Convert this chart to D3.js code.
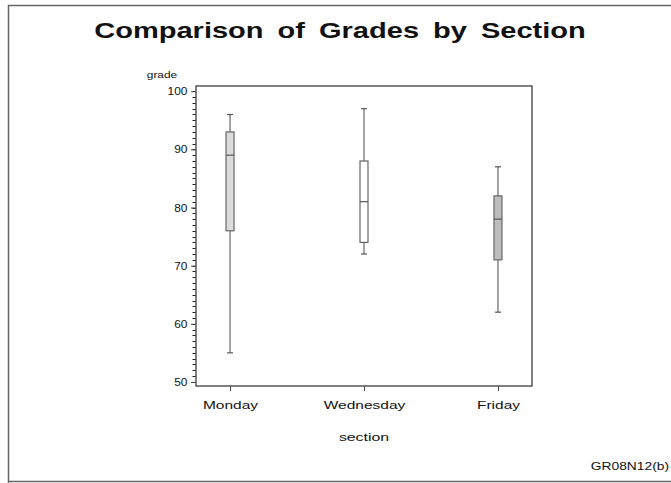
<!DOCTYPE html>
<html>
<head>
<meta charset="utf-8">
<script src="https://cdn.jsdelivr.net/npm/d3@7"></script>
<style>
  body { margin: 0; background: #fff; }
  text { font-family: Arial, "Liberation Sans", sans-serif; fill: #111; }
</style>
</head>
<body>
<svg id="chart" width="671" height="483"></svg>
<script>
// grade summaries per section
var sections = ["Monday", "Wednesday", "Friday"];
var lowWhisker = [55, 72, 62];
var q1 = [76, 74, 71];
var median = [89, 81, 78];
var q3 = [93, 88, 82];
var highWhisker = [96, 97, 87];
var boxFill = ["#dcdcdc", "#ffffff", "#bdbdbd"];
var yTicks = [50, 60, 70, 80, 90, 100];
var yMinorTicks = d3.range(50, 101, 1);

var svg = d3.select("#chart"),
    margin = {top: 86, right: 139, bottom: 97, left: 196},
    width = 671 - margin.left - margin.right,
    height = 483 - margin.top - margin.bottom,
    g = svg.append("g").attr("transform", "translate(" + margin.left + "," + margin.top + ")");

// wide text, like the old device font
function wideText(sel, x, y, size, sx) {
    return sel.append("text")
        .attr("transform", "translate(" + x + "," + y + ") scale(" + sx + ",1)")
        .style("font-size", size + "px");
}

// outer frame
svg.append("path")
    .attr("d", "M8.5,483V5.5H671M8.5,481.5H671")
    .attr("fill", "none")
    .attr("stroke", "#666")
    .attr("stroke-width", 1.5);

wideText(svg, 340, 38, 22, 1.32)
    .attr("text-anchor", "middle")
    .style("font-weight", "bold")
    .style("word-spacing", "4.5px")
    .text("Comparison of Grades by Section");

var x = d3.scalePoint().domain(sections).range([0, width]).padding(0.254);
var y = d3.scaleLinear().domain([49.3, 100.9]).range([height, 0]);

var data = sections.map(function (s, i) {
    return {section: s, lo: lowWhisker[i], q1: q1[i], med: median[i], q3: q3[i], hi: highWhisker[i], fill: boxFill[i]};
});

// minor ticks, one per grade point
g.selectAll(".minor")
    .data(yMinorTicks)
    .enter().append("line")
    .attr("class", "minor")
    .attr("x1", -3.5).attr("x2", 0)
    .attr("y1", function (v) { return Math.round(y(v)) + 0.5; })
    .attr("y2", function (v) { return Math.round(y(v)) + 0.5; })
    .attr("stroke", "#222")
    .attr("stroke-width", 1);

g.append("g")
    .attr("class", "axis axis--y")
    .call(d3.axisLeft(y).tickValues(yTicks).tickSize(5).tickPadding(3))
    .call(function (a) { a.select(".domain").remove(); })
    .call(function (a) {
        a.selectAll("line").attr("stroke", "#444");
        a.selectAll("text").style("font-size", "11px").attr("font-family", null)
            .attr("transform", "scale(1.08,1)");
    });

g.append("g")
    .attr("class", "axis axis--x")
    .attr("transform", "translate(0," + height + ")")
    .call(d3.axisBottom(x).tickSize(5).tickPadding(10))
    .call(function (a) { a.select(".domain").remove(); })
    .call(function (a) {
        a.selectAll("line").attr("stroke", "#444");
        a.selectAll("text").style("font-size", "11.5px").attr("font-family", null)
            .attr("transform", "scale(1.35,1)");
    });

// plot frame
g.append("rect")
    .attr("width", width)
    .attr("height", height)
    .attr("fill", "none")
    .attr("stroke", "#555")
    .attr("stroke-width", 1.5);

var box = g.selectAll(".box")
    .data(data)
    .enter().append("g")
    .attr("class", "box")
    .attr("transform", function (d) { return "translate(" + x(d.section) + ",0)"; });

box.append("line")
    .attr("y1", function (d) { return y(d.lo); })
    .attr("y2", function (d) { return y(d.hi); })
    .attr("stroke", "#666")
    .attr("stroke-width", 1.2);

box.selectAll(".cap")
    .data(function (d) { return [d.lo, d.hi]; })
    .enter().append("line")
    .attr("class", "cap")
    .attr("x1", -3).attr("x2", 3)
    .attr("y1", function (v) { return y(v); })
    .attr("y2", function (v) { return y(v); })
    .attr("stroke", "#555")
    .attr("stroke-width", 1.2);

box.append("rect")
    .attr("x", -4)
    .attr("width", 8)
    .attr("y", function (d) { return y(d.q3); })
    .attr("height", function (d) { return y(d.q1) - y(d.q3); })
    .attr("fill", function (d) { return d.fill; })
    .attr("stroke", "#666")
    .attr("stroke-width", 1.2);

box.append("line")
    .attr("x1", -4).attr("x2", 4)
    .attr("y1", function (d) { return y(d.med); })
    .attr("y2", function (d) { return y(d.med); })
    .attr("stroke", "#555")
    .attr("stroke-width", 1.2);

wideText(svg, 162, 78, 9.5, 1.25)
    .attr("text-anchor", "middle")
    .text("grade");

wideText(svg, margin.left + width / 2, 441, 11.5, 1.38)
    .attr("text-anchor", "middle")
    .text("section");

wideText(svg, 669, 470, 10, 1.38)
    .attr("text-anchor", "end")
    .text("GR08N12(b)");
</script>
</body>
</html>
